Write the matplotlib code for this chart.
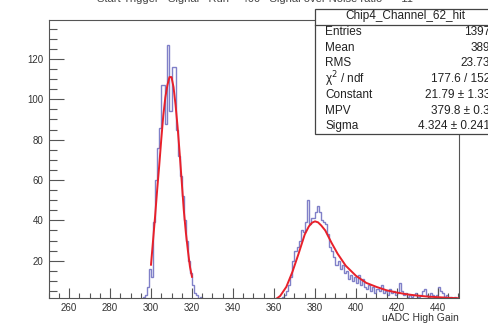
import numpy as np
import matplotlib.pyplot as plt
from matplotlib.patches import Rectangle
from matplotlib.ticker import MultipleLocator

plt.rcParams['font.family'] = ['Liberation Sans', 'DejaVu Sans']

# histogram contents, bin width 1 from 250 to 450 (only non-zero bins listed)
bin_counts = {
    264: 1, 285: 1, 294: 1, 295: 1, 296: 2, 297: 3, 298: 7, 299: 16, 300: 12,
    301: 39, 302: 60, 303: 76, 304: 86, 305: 107, 306: 107, 307: 88, 308: 127,
    309: 94, 310: 116, 311: 116, 312: 85, 313: 72, 314: 62, 315: 52, 316: 40,
    317: 30, 318: 20, 319: 14, 320: 8, 321: 4, 322: 3, 323: 1, 324: 2, 326: 1,
    328: 1, 335: 1, 352: 1, 357: 1,
    361: 1, 363: 1, 364: 2, 365: 3, 366: 5, 367: 8, 368: 12, 369: 20, 370: 25,
    371: 27, 372: 30, 373: 35, 374: 34, 375: 39, 376: 50, 377: 38, 378: 41,
    379: 41, 380: 44, 381: 47, 382: 44, 383: 40, 384: 39, 385: 38, 386: 33,
    387: 27, 388: 25, 389: 22, 390: 18, 391: 20, 392: 16, 393: 18, 394: 14,
    395: 15, 396: 11, 397: 13, 398: 10, 399: 12, 400: 9, 401: 13, 402: 8,
    403: 11, 404: 7, 405: 6, 406: 8, 407: 5, 408: 7, 409: 4, 410: 6, 411: 5,
    412: 8, 413: 4, 414: 5, 415: 3, 416: 6, 417: 4, 418: 5, 419: 3, 420: 4,
    421: 9, 422: 5, 423: 3, 424: 4, 425: 2, 426: 3, 427: 2, 428: 3, 429: 4,
    430: 2, 431: 3, 432: 5, 433: 6, 434: 3, 435: 2, 436: 4, 437: 3, 438: 2,
    439: 3, 440: 7, 441: 5, 442: 4, 443: 2, 444: 3, 445: 1, 446: 2, 447: 1,
    448: 2, 449: 1,
}

# gaussian fit curve
gaus_x = [300, 301, 302, 303, 304, 305, 306, 307, 308, 309, 310,
          311, 312, 313, 314, 315, 316, 317, 318, 319, 320]
gaus_y = [18, 30, 42, 55, 67, 80, 92, 101, 107, 111, 111,
          106, 97, 86, 73, 59, 45, 34, 25, 17, 12]

# landau fit curve
landau_x = [361.5, 363, 366, 369, 372, 375, 377, 378.5, 380, 381.5, 383, 385,
            388, 391, 395, 400, 405, 410, 415, 420, 425, 430, 435, 440, 445, 450]
landau_y = [1.4, 2.5, 7, 14.5, 23.5, 33, 37, 38.8, 39.5, 39, 37.5, 35,
            29, 23.5, 17.5, 12.5, 9, 7, 5.3, 4.2, 3.3, 2.7, 2.2, 1.9, 1.6, 1.4]

stat_labels = ['Entries', 'Mean', 'RMS', '\u03c7$^{2}$ / ndf', 'Constant', 'MPV', 'Sigma']
stat_values = ['1397', '389', '23.73', '177.6 / 152', '21.79 \u00b1 1.33',
               '379.8 \u00b1 0.3', '4.324 \u00b1 0.241']

edges = np.arange(250, 451)
counts = np.array([bin_counts.get(int(e), 0) for e in edges[:-1]])

W, H = 488, 324
fig = plt.figure(figsize=(W / 100, H / 100), dpi=100)
x0, x1, y0, y1 = 48.5, 458.5, 20, 298.3
ax = fig.add_axes([x0 / W, 1 - y1 / H, (x1 - x0) / W, (y1 - y0) / H])

ax.stairs(counts, edges, color='#8080c8', lw=1.0, baseline=None)
ax.plot(gaus_x, gaus_y, color='#e8202a', lw=1.4)
ax.plot(landau_x, landau_y, color='#e8202a', lw=1.4)

ax.set_xlim(250, 450)
ax.set_ylim(1.36, 139.3)
ax.xaxis.set_major_locator(MultipleLocator(20))
ax.xaxis.set_minor_locator(MultipleLocator(5))
ax.yaxis.set_major_locator(MultipleLocator(20))
ax.yaxis.set_minor_locator(MultipleLocator(5))
ax.tick_params(which='both', direction='in', colors='#555555', labelcolor='#333333',
               labelsize=7, top=False, right=False, width=0.8)
ax.tick_params(axis='y', which='major', length=11)
ax.tick_params(axis='y', which='minor', length=5.5)
ax.tick_params(axis='x', which='major', length=7)
ax.tick_params(axis='x', which='minor', length=3.5)
ax.set_xticks(np.arange(260, 450, 20))
ax.set_yticks(np.arange(20, 140, 20))
for s in ax.spines.values():
    s.set_color('#555555')
    s.set_linewidth(0.8)

# overlay in pixel coordinates for stats box and texts
ov = fig.add_axes([0, 0, 1, 1])
ov.set_xlim(0, W)
ov.set_ylim(H, 0)
ov.axis('off')

ov.text(255, -1, 'Start Trigger   Signal   Run = 400   Signal over Noise ratio  =  11',
        ha='center', va='center', fontsize=8, color='#444444')
ov.text(459, 318, 'uADC High Gain', ha='right', va='center', fontsize=7.5, color='#333333')

ov.add_patch(Rectangle((315, 9), 190, 125, facecolor='white', edgecolor='#444444', lw=0.9))
ov.plot([315, 505], [24.5, 24.5], color='#444444', lw=0.9)
ov.text(405, 16, 'Chip4_Channel_62_hit', ha='center', va='center', fontsize=8.5, color='#222222')
for i, (lab, val) in enumerate(zip(stat_labels, stat_values)):
    yy = 32 + i * 15.7
    ov.text(325, yy, lab, ha='left', va='center', fontsize=8.5, color='#222222')
    ov.text(490, yy, val, ha='right', va='center', fontsize=8.5, color='#222222')

fig.savefig('out.png', dpi=100)
